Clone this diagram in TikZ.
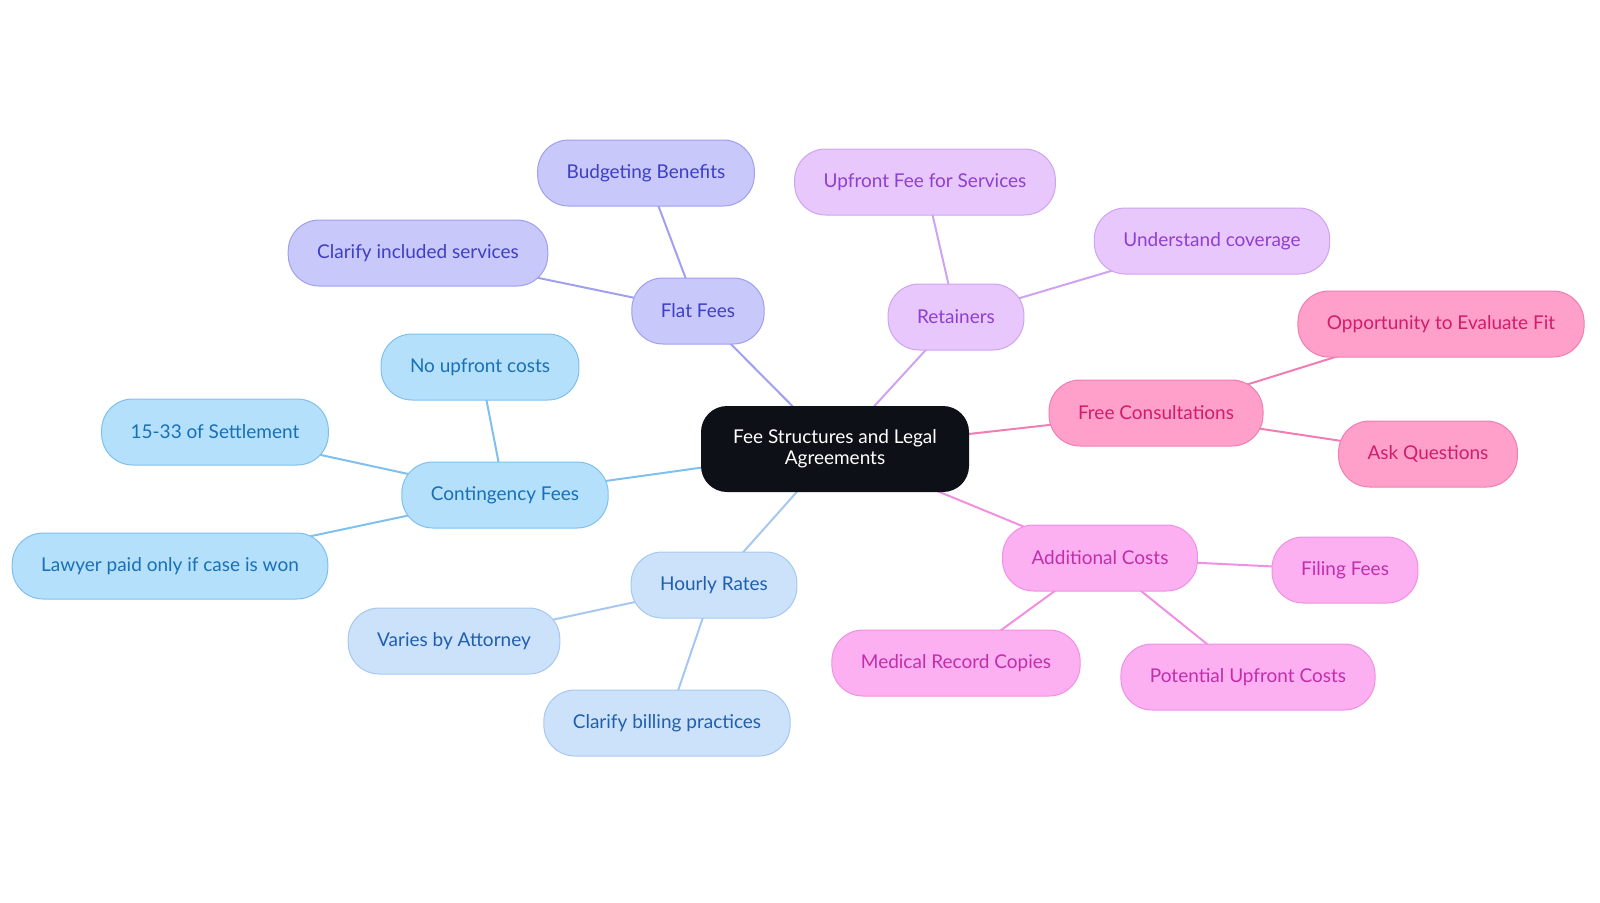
\documentclass[tikz,border=0pt]{standalone}
\usepackage{fontspec}
\setmainfont{Lato}
\usetikzlibrary{backgrounds}
\definecolor{rootFill}{HTML}{0D1117}
\definecolor{flatFill}{HTML}{C8C8FA}\definecolor{flatLine}{HTML}{A0A0EE}\definecolor{flatText}{HTML}{3F3FC4}
\definecolor{retFill}{HTML}{E8C8FC}\definecolor{retLine}{HTML}{CFA2F2}\definecolor{retText}{HTML}{8E3FD0}
\definecolor{freeFill}{HTML}{FFA0CA}\definecolor{freeLine}{HTML}{F07EB2}\definecolor{freeText}{HTML}{D11C6C}
\definecolor{addFill}{HTML}{FCB0F2}\definecolor{addLine}{HTML}{F090E2}\definecolor{addText}{HTML}{C22EAA}
\definecolor{hourFill}{HTML}{CCE2FA}\definecolor{hourLine}{HTML}{A6C8F0}\definecolor{hourText}{HTML}{1F5FAE}
\definecolor{contFill}{HTML}{B4E0FC}\definecolor{contLine}{HTML}{80C0EE}\definecolor{contText}{HTML}{1870B6}

\begin{document}
\begin{tikzpicture}[x=1pt,y=-1pt,
    bubble/.style={rounded corners=31pt, minimum height=66pt, inner xsep=29pt, line width=1pt,
      font=\fontsize{19}{22}\selectfont},
    flat/.style={bubble, draw=flatLine, fill=flatFill, text=flatText},
    ret/.style={bubble, draw=retLine, fill=retFill, text=retText},
    free/.style={bubble, draw=freeLine, fill=freeFill, text=freeText},
    add/.style={bubble, draw=addLine, fill=addFill, text=addText},
    hour/.style={bubble, draw=hourLine, fill=hourFill, text=hourText},
    cont/.style={bubble, draw=contLine, fill=contFill, text=contText},
    link/.style={line width=2pt}]
    \useasboundingbox (0,0) rectangle (1600,902);

    % Centre
    \node[fill=rootFill, text=white, rounded corners=26pt, minimum width=268pt, minimum height=86pt,
      align=center, font=\fontsize{19}{21}\selectfont] (root) at (835,449) {Fee Structures and Legal\\Agreements};

    % Branches
    \node[flat] (flat) at (698,311) {Flat Fees};
    \node[ret]  (ret)  at (956,317) {Retainers};
    \node[free] (free) at (1156,413) {Free Consultations};
    \node[add]  (add)  at (1100,558) {Additional Costs};
    \node[hour] (hour) at (714,585) {Hourly Rates};
    \node[cont] (cont) at (505,495) {Contingency Fees};

    % Leaves
    \node[flat] (budget)  at (646,173) {Budgeting Benefits};
    \node[flat] (clarinc) at (418,253) {Clarify included services};
    \node[ret]  (upfee)   at (925,182) {Upfront Fee for Services};
    \node[ret]  (cover)   at (1212,241) {Understand coverage};
    \node[free] (evalfit) at (1441,324) {Opportunity to Evaluate Fit};
    \node[free] (ask)     at (1428,454) {Ask Questions};
    \node[add]  (filing)  at (1345,570) {Filing Fees};
    \node[add]  (medical) at (956,663) {Medical Record Copies};
    \node[add]  (potent)  at (1248,677) {Potential Upfront Costs};
    \node[hour] (varies)  at (454,641) {Varies by Attorney};
    \node[hour] (billing) at (667,723) {Clarify billing practices};
    \node[cont] (noup)    at (480,367) {No upfront costs};
    \node[cont] (settle)  at (215,432) {15-33 of Settlement};
    \node[cont] (lawyer)  at (170,566) {Lawyer paid only if case is won};

    \begin{scope}[on background layer]
      \foreach \a/\b/\c in {root/flat/flatLine, flat/budget/flatLine, flat/clarinc/flatLine,
          root/ret/retLine, ret/upfee/retLine, ret/cover/retLine,
          root/free/freeLine, free/evalfit/freeLine, free/ask/freeLine,
          root/add/addLine, add/filing/addLine, add/medical/addLine, add/potent/addLine,
          root/hour/hourLine, hour/varies/hourLine, hour/billing/hourLine,
          root/cont/contLine, cont/noup/contLine, cont/settle/contLine, cont/lawyer/contLine}
        \draw[link, \c] (\a.center) -- (\b.center);
    \end{scope}
\end{tikzpicture}
\end{document}
